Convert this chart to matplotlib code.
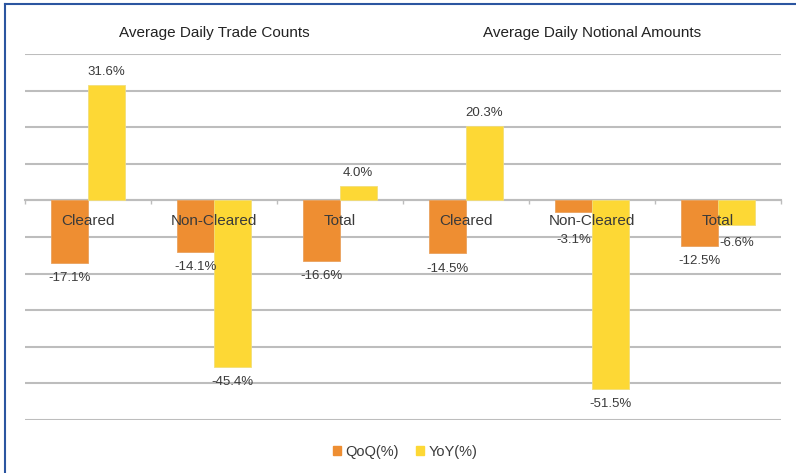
import numpy as np
import matplotlib
matplotlib.use("Agg")
import matplotlib.pyplot as plt
from matplotlib.lines import Line2D
from matplotlib.patches import Patch

plt.rcParams["font.family"] = ["Liberation Sans", "DejaVu Sans"]

# data
categories = ["Cleared", "Non-Cleared", "Total", "Cleared", "Non-Cleared", "Total"]
qoq = [-17.1, -14.1, -16.6, -14.5, -3.1, -12.5]
yoy = [31.6, -45.4, 4.0, 20.3, -51.5, -6.6]
panel_titles = ["Average Daily Trade Counts", "Average Daily Notional Amounts"]
series_names = ["QoQ(%)", "YoY(%)"]

orange = "#EE8E32"
yellow = "#FDD835"
grid_gray = "#BDBDBD"
text_col = "#3A3A3A"

fig = plt.figure(figsize=(7.96, 4.73), dpi=100)
ax = fig.add_axes([25 / 796, 53 / 473, 756 / 796, 366 / 473])

x = np.arange(len(categories))
w = 0.29
ax.bar(x - w / 2, qoq, w, color=orange, edgecolor="#E9A25E", linewidth=0.6, zorder=3)
ax.bar(x + w / 2, yoy, w, color=yellow, edgecolor="#F2DE7A", linewidth=0.6, zorder=3)

ax.set_xlim(-0.5, len(categories) - 0.5)
ax.set_ylim(-60, 40)
ax.set_yticks(np.arange(-60, 41, 10))
ax.yaxis.grid(True, color=grid_gray, linewidth=1.5, zorder=0)
ax.tick_params(axis="y", length=0, labelleft=False)

for s in ["top", "right", "left"]:
    ax.spines[s].set_visible(False)
ax.spines["bottom"].set_position(("data", 0))
ax.spines["bottom"].set_color(grid_gray)
ax.spines["bottom"].set_linewidth(1.5)

# category boundary ticks on the zero line, labels drawn as text over the bars
ax.set_xticks(np.arange(-0.5, len(categories), 1.0))
ax.tick_params(axis="x", length=3, width=1, color=grid_gray, direction="out", labelbottom=False)
for i, cat in enumerate(categories):
    ax.annotate(cat, (x[i], 0), xytext=(0, -14.8), textcoords="offset points",
                ha="center", va="center", fontsize=11, color=text_col, zorder=6)

# data labels
def put_label(xpos, val, extra=0):
    if val >= 0:
        off = 9.4
    else:
        off = -11.0 - extra
    ax.annotate(f"{val:.1f}%", (xpos, val), xytext=(0, off), textcoords="offset points",
                ha="center", va="center", fontsize=9.5, color=text_col, zorder=6)

for i in range(len(categories)):
    put_label(x[i] - w / 2, qoq[i], extra=(9.5 if abs(qoq[i]) < 5 else 0))
    put_label(x[i] + w / 2, yoy[i], extra=(2 if abs(yoy[i]) < 10 else 0))

# panel titles
tr = ax.get_xaxis_transform()
ax.text(1, 1.057, panel_titles[0], transform=tr, ha="center", va="center", fontsize=11, color="#222222")
ax.text(4, 1.057, panel_titles[1], transform=tr, ha="center", va="center", fontsize=11, color="#222222")

# legend
handles = [Patch(color=orange), Patch(color=yellow)]
fig.legend(handles, series_names, loc="center", bbox_to_anchor=(405 / 796, 21 / 473), ncol=2,
           frameon=False, fontsize=10.5, handlelength=0.55, handleheight=0.55,
           handletextpad=0.3, columnspacing=1.2, labelcolor=text_col)

# frame lines
border = "#2B55A0"
fig.add_artist(Line2D([5 / 796, 1], [1 - 4 / 473, 1 - 4 / 473], color=border, linewidth=1.5,
                      transform=fig.transFigure))
fig.add_artist(Line2D([5 / 796, 5 / 796], [0, 1 - 4 / 473], color=border, linewidth=1.5,
                      transform=fig.transFigure))

fig.savefig("out.png", dpi=100)
